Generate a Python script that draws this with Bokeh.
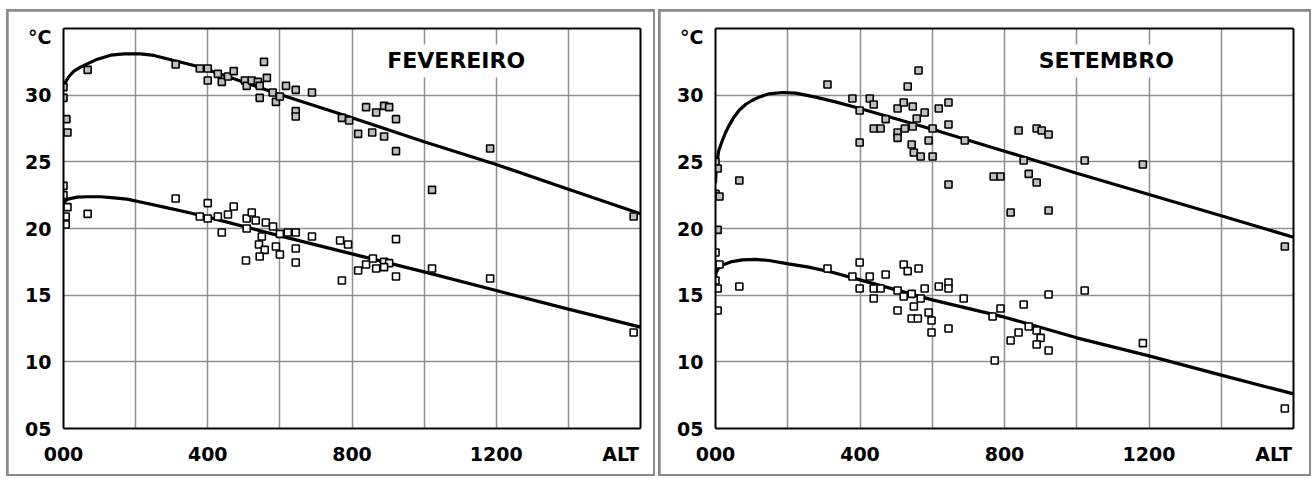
from bokeh.plotting import figure
from bokeh.layouts import row, column
from bokeh.models import Label, FixedTicker, Range1d, LinearAxis
from bokeh.embed import file_html
from bokeh.resources import INLINE

# ---------------- data ----------------
# FEVEREIRO - upper series (grey squares): altitude (m), temperature (°C)
feb_hi_alt = [0, 0, 8, 11, 67, 311, 378, 400, 400, 428, 439, 456, 472, 503, 508, 522,
              539, 544, 544, 556, 564, 580, 589, 600, 617, 644, 644, 644, 689, 772, 792,
              817, 839, 856, 867, 889, 889, 903, 922, 922, 1022, 1183, 1581]
feb_hi_t = [30.6, 29.8, 28.2, 27.2, 31.9, 32.3, 32.0, 32.0, 31.1, 31.6, 31.0, 31.4, 31.8, 31.1, 30.7, 31.1,
            31.0, 30.7, 29.8, 32.5, 31.3, 30.2, 29.5, 29.9, 30.7, 30.4, 28.8, 28.4, 30.2, 28.3, 28.1,
            27.1, 29.1, 27.2, 28.7, 29.2, 26.9, 29.1, 28.2, 25.8, 22.9, 26.0, 20.9]
# FEVEREIRO - lower series (white squares)
feb_lo_alt = [0, 0, 11, 6, 6, 67, 311, 400, 378, 400, 428, 439, 456, 472, 508, 522, 508, 533,
              561, 581, 550, 542, 558, 544, 506, 589, 600, 600, 622, 644, 644, 644, 689, 767,
              789, 772, 817, 839, 858, 867, 889, 903, 889, 922, 922, 1022, 1183, 1581]
feb_lo_t = [23.2, 22.5, 21.6, 20.9, 20.3, 21.1, 22.25, 21.9, 20.9, 20.75, 20.9, 19.7, 21.05, 21.65, 20.75, 21.2, 20.0, 20.6,
            20.45, 20.15, 19.4, 18.8, 18.4, 17.9, 17.6, 18.65, 18.05, 19.6, 19.7, 19.7, 18.5, 17.45, 19.4, 19.1,
            18.8, 16.1, 16.85, 17.3, 17.75, 17.0, 17.5, 17.4, 17.1, 16.4, 19.2, 17.0, 16.25, 12.2]
# FEVEREIRO - fitted curves
feb_hi_curve_alt = [0, 6, 15, 29, 47, 66, 94, 131, 168, 214, 251, 306, 362, 400, 600, 800, 1000, 1200, 1400, 1600]
feb_hi_curve_t = [30.65, 31.0, 31.4, 31.8, 32.1, 32.35, 32.7, 33.0, 33.1, 33.1, 32.98, 32.6, 32.23, 31.9, 30.05, 28.3, 26.5, 24.8, 22.95, 21.1]
feb_lo_curve_alt = [0, 6, 15, 38, 66, 103, 140, 176, 223, 279, 343, 400, 600, 800, 1000, 1200, 1400, 1600]
feb_lo_curve_t = [21.8, 22.1, 22.22, 22.35, 22.38, 22.38, 22.3, 22.2, 21.93, 21.6, 21.22, 20.85, 19.45, 18.1, 16.75, 15.35, 13.95, 12.6]

# SETEMBRO - upper series (grey squares)
set_hi_alt = [0, 6, 0, 11, 6, 66, 310, 379, 399, 399, 427, 438, 438, 457, 471, 504, 504, 504,
              521, 532, 524, 546, 546, 557, 562, 543, 549, 568, 579, 590, 601, 601, 618, 645,
              645, 645, 690, 839, 889, 903, 922, 853, 867, 889, 770, 789, 817, 922, 1022, 1183, 1576]
set_hi_t = [25.0, 24.5, 22.6, 22.4, 19.9, 23.6, 30.8, 29.75, 28.85, 26.45, 29.75, 29.3, 27.5, 27.5, 28.2, 29.0, 27.2, 26.8,
            29.45, 30.65, 27.5, 29.15, 27.65, 28.25, 31.85, 26.3, 25.7, 25.4, 28.7, 26.6, 25.4, 27.5, 29.0, 29.45,
            27.8, 23.3, 26.6, 27.35, 27.5, 27.35, 27.05, 25.1, 24.1, 23.45, 23.9, 23.9, 21.2, 21.35, 25.1, 24.8, 18.65]
# SETEMBRO - lower series (white squares)
set_lo_alt = [0, 11, 0, 6, 6, 66, 310, 379, 399, 399, 427, 438, 438, 457, 471, 504, 504, 521,
              532, 521, 543, 549, 543, 560, 562, 568, 579, 590, 598, 598, 618, 645, 645, 645,
              687, 767, 789, 773, 853, 867, 839, 817, 889, 900, 889, 922, 922, 1022, 1183, 1576]
set_lo_t = [18.2, 17.3, 16.1, 15.5, 13.85, 15.65, 17.0, 16.4, 17.45, 15.5, 16.4, 15.5, 14.75, 15.5, 16.55, 15.35, 13.85, 17.3,
            16.8, 14.9, 15.1, 14.15, 13.25, 13.25, 17.0, 14.75, 15.5, 13.7, 13.1, 12.2, 15.65, 15.95, 15.5, 12.5,
            14.75, 13.4, 14.0, 10.1, 14.3, 12.65, 12.2, 11.6, 12.35, 11.8, 11.3, 10.85, 15.05, 15.35, 11.4, 6.5]
# SETEMBRO - fitted curves
set_hi_curve_alt = [0, 2, 9, 19, 28, 37, 51, 65, 83, 101, 120, 148, 185, 222, 277, 332, 400, 600, 800, 1000, 1200, 1400, 1600]
set_hi_curve_t = [23.4, 24.6, 25.85, 26.6, 27.2, 27.7, 28.35, 28.85, 29.3, 29.6, 29.85, 30.1, 30.2, 30.15, 29.85, 29.5, 29.0, 27.45, 25.8, 24.15, 22.55, 20.95, 19.35]
set_lo_curve_alt = [0, 2, 9, 23, 46, 74, 111, 148, 202, 258, 323, 400, 600, 800, 1000, 1200, 1400, 1600]
set_lo_curve_t = [16.4, 16.72, 17.05, 17.3, 17.52, 17.65, 17.68, 17.6, 17.35, 17.1, 16.72, 16.15, 14.65, 13.35, 11.8, 10.45, 9.0, 7.6]

x_grid = [200, 400, 600, 800, 1000, 1200, 1400]
x_ticks = [0, 400, 800, 1200, 1545]
x_labels = {0: "000", 400: "400", 800: "800", 1200: "1200", 1545: "ALT"}
y_grid = [10, 15, 20, 25, 30]
y_ticks = [5, 10, 15, 20, 25, 30, 34.4]
y_labels = {5: "05", 10: "10", 15: "15", 20: "20", 25: "25", 30: "30", 34.4: "°C"}

FONT = "DejaVu Sans"
RING = "#8a8a8a"


def style_axis(ax):
    ax.axis_line_color = "black"
    ax.axis_line_width = 2
    ax.major_tick_line_color = None
    ax.minor_tick_line_color = None
    ax.major_tick_out = 0
    ax.major_tick_in = 0
    ax.minor_tick_out = 0
    ax.minor_tick_in = 0
    ax.major_label_text_font = FONT
    ax.major_label_text_font_style = "bold"
    ax.major_label_text_font_size = "19px"
    ax.major_label_text_color = "black"


def panel(title, width, height, left, right, top, bottom, title_x,
          hi_alt, hi_t, lo_alt, lo_t, hc_alt, hc_t, lc_alt, lc_t):
    p = figure(width=width, height=height, x_range=Range1d(0, 1600), y_range=Range1d(5, 35),
               output_backend="svg", toolbar_location=None,
               min_border_left=left, min_border_right=right,
               min_border_top=top, min_border_bottom=bottom,
               background_fill_color="white", border_fill_color="white",
               outline_line_color=None, margin=(2, 2, 2, 2))
    bottom_axis = p.below[0]
    left_axis = p.left[0]
    # grid
    p.xgrid[0].ticker = FixedTicker(ticks=x_grid)
    p.ygrid[0].ticker = FixedTicker(ticks=y_grid)
    for g in (p.xgrid[0], p.ygrid[0]):
        g.grid_line_color = "#8e8e8e"
        g.grid_line_width = 1.5
    # main axes
    bottom_axis.ticker = FixedTicker(ticks=x_ticks)
    bottom_axis.major_label_overrides = x_labels
    left_axis.ticker = FixedTicker(ticks=y_ticks)
    left_axis.major_label_overrides = y_labels
    style_axis(bottom_axis)
    style_axis(left_axis)
    bottom_axis.major_label_standoff = 14
    left_axis.major_label_standoff = 12
    # frame lines on top and right
    top_axis = LinearAxis(ticker=FixedTicker(ticks=[]))
    right_axis = LinearAxis(ticker=FixedTicker(ticks=[]))
    for ax in (top_axis, right_axis):
        style_axis(ax)
        ax.major_label_text_font_size = "0px"
        ax.major_label_standoff = 0
    p.add_layout(top_axis, "above")
    p.add_layout(right_axis, "right")

    # curves
    p.line(hc_alt, hc_t, line_color="black", line_width=3.2)
    p.line(lc_alt, lc_t, line_color="black", line_width=3.2)
    # points
    p.scatter(hi_alt, hi_t, marker="square", size=7, fill_color="#c0c0c0",
              line_color="black", line_width=1.6)
    p.scatter(lo_alt, lo_t, marker="square", size=7, fill_color="white",
              line_color="black", line_width=1.6)

    # title inside the frame, on a white patch
    p.add_layout(Label(x=title_x, y=32.57, text=title, text_align="center",
                       text_baseline="middle", text_font=FONT, text_font_style="bold",
                       text_font_size="22px", text_color="black",
                       background_fill_color="white", padding=4))
    return p


p1 = panel("FEVEREIRO", 645, 463, 55, 13, 17, 46, 1089,
           feb_hi_alt, feb_hi_t, feb_lo_alt, feb_lo_t,
           feb_hi_curve_alt, feb_hi_curve_t, feb_lo_curve_alt, feb_lo_curve_t)
p2 = panel("SETEMBRO", 649, 463, 55, 16, 17, 46, 1082,
           set_hi_alt, set_hi_t, set_lo_alt, set_lo_t,
           set_hi_curve_alt, set_hi_curve_t, set_lo_curve_alt, set_lo_curve_t)

c1 = column(p1, margin=(9, 0, 3, 6), styles={"background-color": RING})
c2 = column(p2, margin=(9, 3, 3, 3), styles={"background-color": RING})
layout = row(c1, c2, spacing=0, styles={"background-color": "white"})
open("out.html", "w").write(file_html(layout, INLINE))
